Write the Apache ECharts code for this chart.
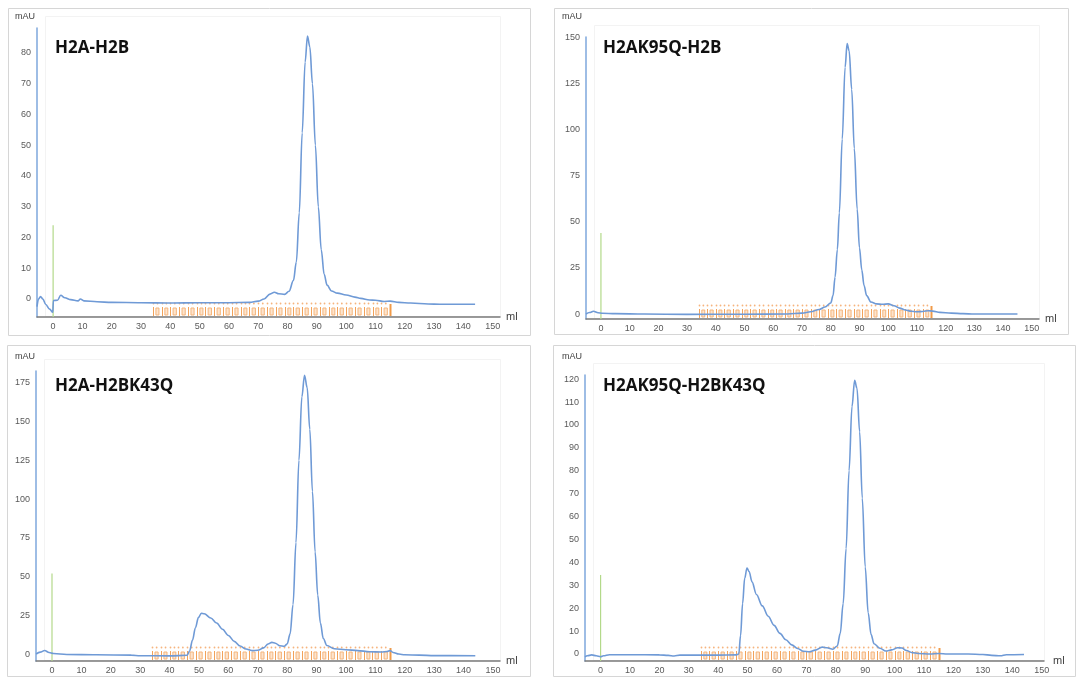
<!DOCTYPE html>
<html><head><meta charset="utf-8">
<script src="https://cdn.jsdelivr.net/npm/echarts@6/dist/echarts.min.js"></script>
<style>html,body{margin:0;padding:0;background:#fff}#c{width:1076px;height:677px}</style>
</head><body><div id="c"></div>
<script>
// ---------- data ----------
const titles = ['H2A-H2B', 'H2AK95Q-H2B', 'H2A-H2BK43Q', 'H2AK95Q-H2BK43Q'];
const yUnit = 'mAU';
const xUnit = 'ml';
const xTickValues = [0, 10, 20, 30, 40, 50, 60, 70, 80, 90, 100, 110, 120, 130, 140, 150];
const yTicks1 = [0, 10, 20, 30, 40, 50, 60, 70, 80];
const yTicks2 = [0, 25, 50, 75, 100, 125, 150];
const yTicks3 = [0, 25, 50, 75, 100, 125, 150, 175];
const yTicks4 = [0, 10, 20, 30, 40, 50, 60, 70, 80, 90, 100, 110, 120];

// H2A-H2B
const vol1 = [-5.5, -5, -4.3, -3.5, -2.5, -1.2, -0.1, 0, 0.1, 1.5, 2.6, 4, 6, 8.5, 9.3, 10.5, 15, 20, 30, 40, 50, 60, 67, 70, 72, 74, 75.5, 77, 79, 80.5, 82, 83, 84, 85, 86, 86.8, 87.6, 88.5, 89.5, 90.5, 91.5, 92.5, 93.5, 95, 97, 100, 103, 105, 108, 110, 113, 115, 118, 122, 128, 132, 137, 144];
const uv1 = [-2.5, 0, 0.8, 0, -1.8, -3.3, -4.3, -4.3, -0.5, -0.4, 1.2, 0.4, -0.2, -0.6, 0, -0.6, -0.9, -1.1, -1.2, -1.3, -1.2, -1.2, -1.1, -0.7, 0, 1.6, 2.2, 1.7, 1.5, 2.5, 6, 12, 28, 54, 77, 85.5, 82, 70, 50, 30, 16, 8, 4.5, 2.6, 1.9, 1.3, 0.6, 0.2, -0.3, -0.4, -0.8, -0.7, -1.1, -1.3, -1.6, -1.7, -1.7, -1.7];

// H2AK95Q-H2B
const vol2 = [-5.2, -4, -2.6, -1, 0.5, 5, 15, 30, 50, 65, 70, 73, 76, 78, 80, 80.8, 81.5, 82.3, 83, 84, 85, 85.7, 86.4, 87.3, 88.2, 89.2, 90, 90.8, 91.6, 92.5, 94, 96, 98, 100, 102, 104, 106, 108, 110, 112, 114, 115.5, 118, 122, 126, 130, 140, 145];
const uv2 = [0, 0.8, 1.5, 0.7, 0.4, 0.2, 0, -0.2, -0.1, 0, 0.5, 1.2, 2.5, 3.8, 6, 10, 20, 35, 55, 95, 134, 147, 143, 122, 90, 57, 36, 24, 15.5, 10, 6.5, 5.5, 5.3, 5.5, 4.5, 3.2, 2.2, 1.5, 1.2, 1.4, 1.8, 1.6, 0.9, 0.5, 0.2, 0, 0, 0];

// H2A-H2BK43Q
const vol3 = [-5.4, -4, -2.5, -1, 0.5, 5, 15, 27, 30, 40, 46, 46.8, 47.8, 48.8, 49.8, 50.8, 51.8, 54, 56, 58, 60, 62, 64, 66, 68, 70, 72, 73.5, 74.8, 76, 77.5, 79, 80, 81, 82, 83, 84, 85, 85.9, 86.8, 87.7, 88.6, 89.5, 90.4, 91.3, 92.3, 93.5, 96, 100, 104, 108, 112, 114, 115, 116, 118, 120, 125, 130, 144];
const uv3 = [0, 1.2, 2.3, 1, 0.3, -0.3, -0.5, -0.7, -1.1, -1.2, -0.8, 2, 9, 17, 23.5, 26.3, 26, 23.3, 20, 16, 12, 8.2, 5.2, 3.2, 2.2, 2.4, 4, 6.5, 7.5, 7, 5.3, 5, 6.5, 13, 32, 72, 125, 166, 180, 172, 145, 105, 66, 38, 20, 10, 5.5, 3.4, 2.8, 2.2, 1.5, 1.3, 1.6, 2.2, 1, 0, -0.5, -0.7, -1, -1.1];

// H2AK95Q-H2BK43Q
const vol4 = [-5.3, -4.5, -3, -1.5, 0, 1, 3, 10, 20, 23, 25, 27, 30, 40, 46, 47, 47.6, 48.3, 49, 49.8, 50.5, 51.5, 53, 55, 57, 59, 61, 63, 65, 67, 69, 71, 73, 75.4, 77, 79, 80.5, 81.5, 82.5, 83.5, 84.5, 85.5, 86.4, 87.2, 88.1, 89, 90, 91, 92, 93, 95, 97, 99, 101, 102.5, 104, 106, 108, 112, 115, 118, 125, 130, 133, 136, 138, 144];
const uv4 = [-1.3, -0.8, -0.4, -0.8, -1.2, -0.8, -0.3, -0.3, -0.4, -0.6, -0.9, -0.5, -0.5, -0.5, -0.4, 0, 8, 22, 33, 37.5, 36, 31.5, 26, 21, 16.5, 12.5, 9, 6.2, 4, 2.4, 1.2, 1, 1.7, 3, 2.7, 2.1, 3.5, 9, 22, 46, 80, 108, 119.5, 116, 97, 68, 38, 18, 8.5, 4.5, 2.5, 1.3, 1.8, 2.7, 2.6, 1.5, 0.6, 0.2, 0, 0.2, 0, 0, -0.2, -0.6, -0.8, -0.3, -0.2];

const injectionTop = [24, 44, 52, 34.5];
const fractionBounds = [34, 37, 40, 43, 46, 49, 52, 55, 58, 61, 64, 67, 70, 73, 76, 79, 82, 85, 88, 91, 94, 97, 100, 103, 106, 109, 112, 115];

// ---------- layout ----------
const panels = [
  { box: [8, 8, 522, 327], unitPos: [25, 17], grid: { left: 37, top: 28, width: 463, height: 289 }, x: [-5.5, 152.5], y: [-5.85, 88.1], ticks: yTicks1, vol: vol1, uv: uv1, titlePos: [55, 48] },
  { box: [554, 8, 514, 326], unitPos: [572, 17], grid: { left: 586, top: 37, width: 453, height: 282 }, x: [-5.2, 152.5], y: [-2.7, 150.5], ticks: yTicks2, vol: vol2, uv: uv2, titlePos: [603, 48] },
  { box: [7, 345, 523, 331], unitPos: [25, 357], grid: { left: 36, top: 371, width: 464, height: 290 }, x: [-5.44, 152.4], y: [-4.5, 182.7], ticks: yTicks3, vol: vol3, uv: uv3, titlePos: [55, 386] },
  { box: [553, 345, 522, 331], unitPos: [572, 357], grid: { left: 585, top: 375, width: 459, height: 286 }, x: [-5.3, 150.8], y: [-3.06, 121.8], ticks: yTicks4, vol: vol4, uv: uv4, titlePos: [603, 386] }
];

const labelFont = 'Liberation Sans';
const grids = [], xAxes = [], yAxes = [], series = [], graphics = [];

function renderInjection(params, api) {
  const cs = params.coordSys;
  const top = api.coord([0, api.value(1)]);
  return { type: 'line', shape: { x1: top[0], y1: cs.y + cs.height, x2: top[0], y2: top[1] },
    style: { stroke: '#b3d98a', lineWidth: 1.2 } };
}
function renderFraction(params, api) {
  const cs = params.coordSys;
  const base = cs.y + cs.height - 1;
  const idx = params.dataIndex;
  const b = api.value(0);
  const x = Math.round(api.coord([b, 0])[0]) + 0.5;
  const last = idx === fractionBounds.length - 1;
  const children = [];
  if (last) {
    children.push({ type: 'rect', shape: { x: x - 1, y: base - 12, width: 2, height: 12 }, style: { fill: '#f09a48' } });
  } else {
    const nx = api.coord([fractionBounds[idx + 1], 0])[0];
    const w = nx - x;
    children.push({ type: 'line', shape: { x1: x, y1: base, x2: x, y2: base - 9 }, style: { stroke: '#f2a25a', lineWidth: 1 } });
    children.push({ type: 'rect', shape: { x: x + w * 0.3, y: base - 8, width: w * 0.38, height: 7 }, style: { fill: '#fde4cd', stroke: '#f5b57c', lineWidth: 1 } });
    children.push({ type: 'circle', shape: { cx: x, cy: base - 12.5, r: 0.9 }, style: { fill: '#f6b47e' } });
    children.push({ type: 'circle', shape: { cx: x + w * 0.5, cy: base - 12.5, r: 0.9 }, style: { fill: '#f6b47e' } });
  }
  return { type: 'group', children };
}

panels.forEach((p, i) => {
  grids.push(Object.assign({ containLabel: false }, p.grid));
  xAxes.push({
    type: 'value', gridIndex: i, min: p.x[0], max: p.x[1],
    name: xUnit, nameLocation: 'end', nameGap: 6,
    nameTextStyle: { fontSize: 11, color: '#404040', fontFamily: labelFont, verticalAlign: 'middle', padding: [0, 0, 3, 0] },
    axisLine: { onZero: false, lineStyle: { color: '#7a7a7a', width: 1.5 } },
    axisTick: { show: false }, splitLine: { show: false },
    axisLabel: { customValues: xTickValues, fontSize: 9, color: '#595959', margin: 5, fontFamily: labelFont }
  });
  yAxes.push({
    type: 'value', gridIndex: i, min: p.y[0], max: p.y[1],
    axisLine: { show: true, onZero: false, lineStyle: { color: '#7ea7dd', width: 1.5 } },
    axisTick: { show: false }, splitLine: { show: false },
    axisLabel: { customValues: p.ticks, fontSize: 9, color: '#595959', margin: 6, fontFamily: labelFont }
  });
  series.push({
    type: 'custom', xAxisIndex: i, yAxisIndex: i, renderItem: renderFraction,
    data: fractionBounds.map(b => [b]), silent: true, z: 1
  });
  series.push({
    type: 'custom', xAxisIndex: i, yAxisIndex: i, renderItem: renderInjection,
    data: [[0, injectionTop[i]]], silent: true, z: 2
  });
  series.push({
    type: 'line', xAxisIndex: i, yAxisIndex: i, data: p.vol.map((v, k) => [v, p.uv[k]]),
    showSymbol: false, smooth: 0.35, smoothMonotone: 'x', silent: true, z: 3,
    lineStyle: { color: '#6f9ad6', width: 1.6 }
  });
  graphics.push({ type: 'rect', shape: { x: p.box[0] + 0.5, y: p.box[1] + 0.5, width: p.box[2], height: p.box[3] },
    style: { fill: 'none', stroke: '#d6d6d6', lineWidth: 1 }, silent: true, z: -1 });
  graphics.push({ type: 'rect', shape: { x: p.grid.left + 8.5, y: p.grid.top - 11.5, width: p.grid.width - 8, height: p.grid.height + 11 },
    style: { fill: 'none', stroke: '#f3f3f3', lineWidth: 1 }, silent: true, z: -1 });
  graphics.push({ type: 'text', x: p.unitPos[0], y: p.unitPos[1],
    style: { text: yUnit, font: '9px "' + labelFont + '"', fill: '#404040', textAlign: 'center', textVerticalAlign: 'middle' } });
  graphics.push({ type: 'text', x: p.titlePos[0], y: p.titlePos[1],
    style: { text: titles[i], font: 'bold 17px "Open Sans"', fill: '#111', textAlign: 'left', textVerticalAlign: 'middle' } });
});

const chart = echarts.init(document.getElementById('c'), null, { renderer: 'canvas' });
chart.setOption({
  animation: false,
  backgroundColor: '#ffffff',
  grid: grids, xAxis: xAxes, yAxis: yAxes, series: series,
  graphic: { elements: graphics }
});
</script>
</body></html>
